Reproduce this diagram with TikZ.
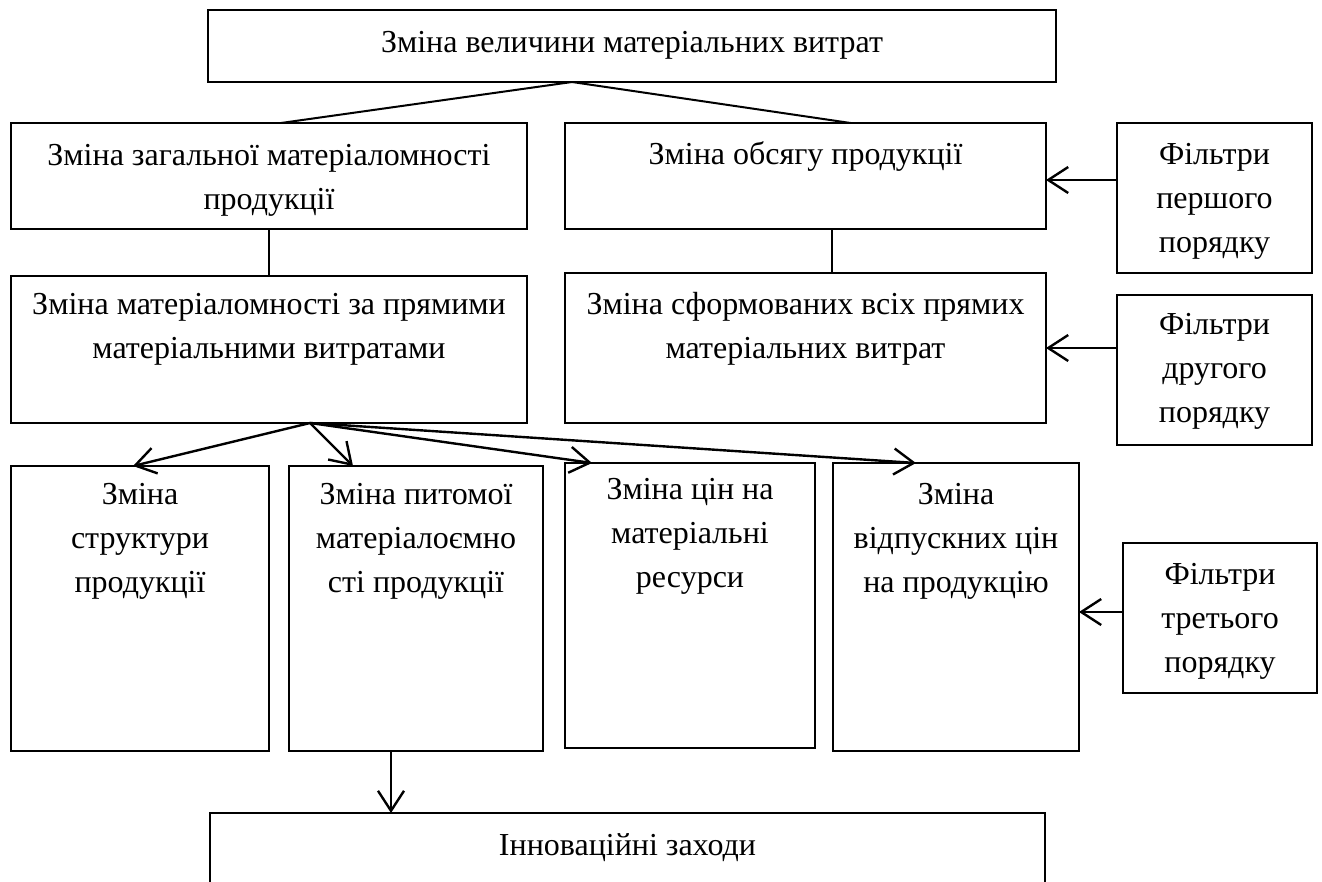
\documentclass[tikz,border=0pt]{standalone}
\usepackage{fontspec}
\setmainfont{Liberation Serif}
\usetikzlibrary{arrows.meta}
\newcommand\myst{\rule{0pt}{25pt}}
\begin{document}
\begin{tikzpicture}[x=1pt,y=-1pt,
  box/.style={draw, line width=1.4pt, anchor=north west, inner sep=0pt, outer sep=0pt},
  lbl/.style={font=\fontsize{32}{44}\selectfont, align=center, anchor=north, inner sep=0pt},
  link/.style={line width=2pt},
  arr/.style={line width=2.4pt, -{Straight Barb[length=20pt,width=26pt]}}]
\useasboundingbox (0,0) rectangle (1322,881);
\clip (0,0) rectangle (1322,881);
% boxes
\node[box, minimum width=848pt, minimum height=72pt] (top) at (208,10) {};
\node[box, minimum width=516pt, minimum height=106pt] (A) at (11,123) {};
\node[box, minimum width=481pt, minimum height=106pt] (B) at (565,123) {};
\node[box, minimum width=195pt, minimum height=150pt] (F1) at (1117,123) {};
\node[box, minimum width=516pt, minimum height=147pt] (C) at (11,276) {};
\node[box, minimum width=481pt, minimum height=150pt] (D) at (565,273) {};
\node[box, minimum width=195pt, minimum height=150pt] (F2) at (1117,295) {};
\node[box, minimum width=258pt, minimum height=285pt] (E) at (11,466) {};
\node[box, minimum width=254pt, minimum height=285pt] (F) at (289,466) {};
\node[box, minimum width=250pt, minimum height=285pt] (G) at (565,463) {};
\node[box, minimum width=246pt, minimum height=288pt] (H) at (833,463) {};
\node[box, minimum width=194pt, minimum height=150pt] (F3) at (1123,543) {};
\node[box, minimum width=835pt, minimum height=100pt] (bot) at (210,813) {};
% texts
\node[lbl] (topt) at ([yshift=-17pt]top.north) {\myst Зміна величини матеріальних витрат};
\node[lbl] (At) at ([yshift=-17pt]A.north) {\myst Зміна загальної матеріаломності\\продукції};
\node[lbl] (Bt) at ([yshift=-16pt]B.north) {\myst Зміна обсягу продукції};
\node[lbl] (F1t) at ([yshift=-16pt]F1.north) {\myst Фільтри\\першого\\порядку};
\node[lbl] (Ct) at ([yshift=-13pt]C.north) {\myst Зміна матеріаломності за прямими\\матеріальними витратами};
\node[lbl] (Dt) at ([yshift=-16pt]D.north) {\myst Зміна сформованих всіх прямих\\матеріальних витрат};
\node[lbl] (F2t) at ([yshift=-14pt]F2.north) {\myst Фільтри\\другого\\порядку};
\node[lbl] (Et) at ([yshift=-13pt]E.north) {\myst Зміна\\структури\\продукції};
\node[lbl] (Ft) at ([yshift=-13pt]F.north) {\myst Зміна питомої\\матеріалоємно\\сті продукції};
\node[lbl] (Gt) at ([yshift=-11pt]G.north) {\myst Зміна цін на\\матеріальні\\ресурси};
\node[lbl] (Ht) at ([yshift=-16pt]H.north) {\myst Зміна\\відпускних цін\\на продукцію};
\node[lbl] (F3t) at ([yshift=-16pt]F3.north) {\myst Фільтри\\третього\\порядку};
\node[lbl] (bott) at ([yshift=-17pt]bot.north) {\myst Інноваційні заходи};
% connectors
\coordinate (apex) at ([xshift=-60pt]top.south);
\draw[link] (apex) -- ([xshift=12pt]A.north);
\draw[link] (apex) -- ([xshift=45pt]B.north);
\draw[link] (A.south) -- (C.north);
\draw[link] ([xshift=26pt]B.south) -- ([xshift=26pt]D.north);
\coordinate (b1) at ([yshift=-4pt]B.east);
\draw[arr] (b1 -| F1.west) -- (b1);
\draw[arr] (F2.west |- D.east) -- (D.east);
\coordinate (h1) at ([yshift=-5pt]H.east);
\draw[arr] (h1 -| F3.west) -- (h1);
\coordinate (fan) at ([xshift=41pt]C.south);
\draw[arr] (fan) -- ([xshift=-7pt]E.north);
\draw[arr] (fan) -- ([xshift=-63pt]F.north);
\draw[arr] (fan) -- ([xshift=-98pt]G.north);
\draw[arr] (fan) -- ([xshift=-40pt]H.north);
\draw[arr] ([xshift=-25pt]F.south) -- ([xshift=-25pt]F.south |- bot.north);
\end{tikzpicture}
\end{document}
